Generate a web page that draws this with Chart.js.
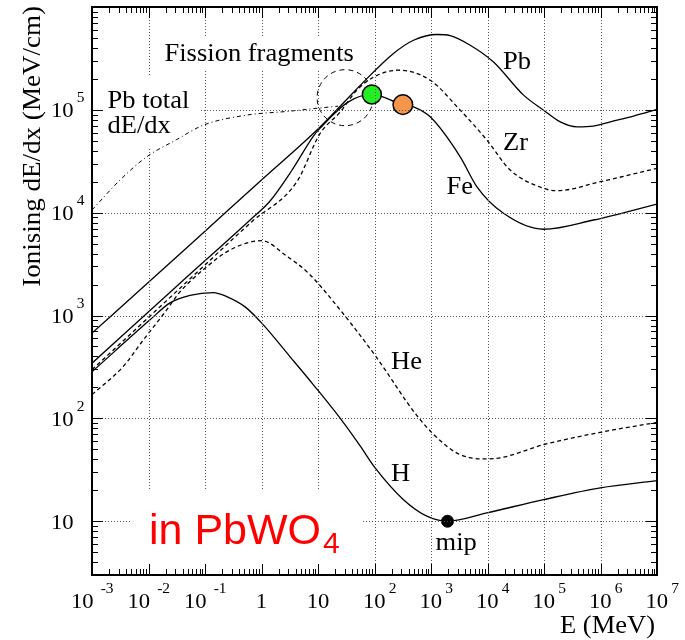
<!DOCTYPE html>
<html><head><meta charset="utf-8">
<script src="https://cdn.jsdelivr.net/npm/chart.js"></script>
<style>html,body{margin:0;padding:0;background:#fff;overflow:hidden}</style>
</head><body>
<canvas id="c" width="685" height="640" style="display:block;width:685px;height:640px"></canvas>
<script>
// ---------- data (energy in MeV, ionising dE/dx in MeV/cm) ----------
const pbE = [0.001, 0.01, 0.1, 1, 10, 30, 60, 216.7, 489.8, 1271, 2188, 4943, 12790, 43450, 98200, 194000, 383000, 754000, 1.49e6, 3.85e6, 1e7];
const pbV = [675, 2105, 6610, 20770, 65100, 121300, 180000, 353000, 475000, 540000, 527000, 425000, 292000, 139000, 99300, 76400, 68400, 69500, 76400, 86900, 100900];

const zrE = [0.001, 0.0361, 0.673, 4.22, 10.9, 24.6, 48.7, 95.8, 265.5, 967, 3289, 9770, 25240, 98200, 169400, 991000, 1e7];
const zrV = [297, 1845, 8180, 20000, 59000, 95000, 155300, 207700, 242900, 194200, 99300, 50800, 26000, 17260, 16360, 20000, 27000];

const feE = [0.001, 0.0361, 0.628, 1.419, 3.48, 8.30, 10.9, 34.6, 89.8, 317.7, 489.8, 967, 3289, 6500, 19230, 98200, 754000, 1e7];
const feV = [344, 2064, 8492, 13000, 26000, 55560, 66400, 119600, 141200, 112300, 107000, 85500, 34960, 17870, 9860, 6900, 8490, 12140];

const heE = [0.001, 0.00354, 0.00767, 0.0204, 0.0361, 0.100, 0.278, 1.01, 2.62, 6.77, 24.6, 95.8, 643, 1910, 3289, 8500, 16790, 98200, 991000, 1e7];
const heV = [170, 318, 556, 1111, 1699, 2885, 4345, 5350, 3883, 2581, 1136, 431, 97.1, 53.5, 44.4, 40.3, 41.3, 55.5, 73.1, 91.4];

const hE = [0.001, 0.01064, 0.0240, 0.0543, 0.1406, 0.2426, 0.512, 1.01, 3.21, 8.30, 24.6, 55.7, 102.6, 326, 845, 1959, 9770, 98200, 991000, 1e7];
const hV = [284, 908, 1328, 1571, 1672, 1529, 1214, 844, 397, 212, 100.5, 54, 33.0, 16.2, 11.2, 10, 12.07, 16.2, 21.1, 24.8];

const pbTotE = [0.001, 0.00313, 0.00931, 0.0316, 0.0935, 0.550, 3.21, 8.30, 22.7];
const pbTotV = [10620, 20770, 34960, 51400, 71000, 88900, 97100, 102800, 108600];

const fissionE = [30.2], fissionV = [131300];
const greenE = [89.8],  greenV = [141200];
const orangeE = [317.7], orangeV = [112300];
const mipE = [1959], mipV = [10];

// tick labels: exponents of 10, and decade grid values
const xTickExps = [-3, -2, -1, 0, 1, 2, 3, 4, 5, 6, 7];
const yTickExps = [1, 2, 3, 4, 5];
const xGridVals = [1e-2, 1e-1, 1, 10, 1e2, 1e3, 1e4, 1e5, 1e6];
const yGridVals = [10, 1e2, 1e3, 1e4, 1e5];

// ---------- styles / annotations ----------
const SERIF = '"Liberation Serif","Times New Roman",serif';
const SANS = '"Liberation Sans",Arial,sans-serif';
const textLabels = [
  {t:'Fission fragments', x:164.5, y:60.5},
  {t:'Pb total', x:107.5, y:108},
  {t:'dE/dx', x:107.5, y:133},
  {t:'Pb', x:503, y:68.5},
  {t:'Zr', x:503, y:150},
  {t:'Fe', x:446.5, y:194},
  {t:'He', x:391, y:369},
  {t:'H', x:391, y:480.5},
  {t:'mip', x:435.5, y:550}
];
// regions where the dotted grid is hidden behind label boxes
const gridGaps = [
  {x:95, y:76, w:105, h:70},
  {x:160, y:37, w:202, h:32},
  {x:130, y:490, w:230, h:84}
];
const inGap = (x, y) => gridGaps.some(b => x >= b.x && x <= b.x + b.w && y >= b.y && y <= b.y + b.h);

const pts = (E, V) => E.map((e, i) => ({x: e, y: V[i]}));
const lineDs = (E, V, dash, w) => ({
  data: pts(E, V), showLine: true, pointRadius: 0, borderColor: '#000',
  borderWidth: w || 1.3, borderDash: dash, fill: false, cubicInterpolationMode: 'monotone'
});

function sText(ctx, str, x, y, size, sx, align) {
  ctx.save();
  ctx.font = size + 'px ' + SERIF;
  ctx.fillStyle = '#000';
  ctx.textBaseline = 'alphabetic';
  ctx.textAlign = align || 'left';
  ctx.translate(x, y);
  ctx.scale(sx, 1);
  ctx.fillText(str, 0, 0);
  ctx.restore();
}

const deco = {
  id: 'deco',
  beforeDatasetDraw(c, args) {
    const ds = c.data.datasets[args.index];
    if (ds.ringDash) { c.ctx.save(); c.ctx.setLineDash(ds.ringDash); }
  },
  afterDatasetDraw(c, args) {
    const ds = c.data.datasets[args.index];
    if (ds.ringDash) { c.ctx.restore(); }
  },
  afterDraw(c) {
    const ctx = c.ctx, ca = c.chartArea, xs = c.scales.x, ys = c.scales.y;
    // dotted decade grid drawn as 1px dots
    ctx.save();
    ctx.globalCompositeOperation = 'source-over';
    ctx.globalAlpha = 1;
    ctx.fillStyle = '#555';
    xGridVals.forEach(v => {
      const px = Math.round(xs.getPixelForValue(v));
      for (let y = Math.ceil(ca.top) + 1; y < ca.bottom - 1; y += 3) {
        if (!inGap(px, y)) ctx.fillRect(px, y, 1, 1);
      }
    });
    yGridVals.forEach(v => {
      const py = Math.round(ys.getPixelForValue(v));
      for (let x = Math.ceil(ca.left) + 1; x < ca.right - 1; x += 3) {
        if (!inGap(x, py)) ctx.fillRect(x, py, 1, 1);
      }
    });
    ctx.restore();

    ctx.save();
    ctx.strokeStyle = '#000'; ctx.lineWidth = 1; ctx.setLineDash([]);
    ctx.beginPath();
    for (let d = -3; d <= 6; d++) {
      for (let k = 1; k <= 9; k++) {
        const v = k * Math.pow(10, d);
        if (v < xs.min * 0.999 || v > xs.max * 1.001) continue;
        const px = Math.round(xs.getPixelForValue(v)) + 0.5;
        const len = k === 1 ? 11 : 6;
        ctx.moveTo(px, ca.bottom); ctx.lineTo(px, ca.bottom - len);
        ctx.moveTo(px, ca.top); ctx.lineTo(px, ca.top + len);
      }
    }
    for (let d = 0; d <= 6; d++) {
      for (let k = 1; k <= 9; k++) {
        const v = k * Math.pow(10, d);
        if (v < ys.min * 0.999 || v > ys.max * 1.001) continue;
        const py = Math.round(ys.getPixelForValue(v)) + 0.5;
        const len = k === 1 ? 11 : 6;
        ctx.moveTo(ca.left, py); ctx.lineTo(ca.left + len, py);
        ctx.moveTo(ca.right, py); ctx.lineTo(ca.right - len, py);
      }
    }
    ctx.stroke();
    ctx.lineWidth = 2;
    ctx.strokeRect(ca.left, ca.top, ca.right - ca.left, ca.bottom - ca.top);
    ctx.restore();

    ctx.save();
    xTickExps.forEach(n => {
      const px = xs.getPixelForValue(Math.pow(10, n));
      if (n === 0) { sText(ctx, '1', px, 608, 22, 1.03, 'center'); return; }
      if (n === 1) { sText(ctx, '10', px, 608, 22, 1.03, 'center'); return; }
      const x0 = px + (n < 0 ? -21 : -11.5);
      sText(ctx, '10', x0, 608, 22, 1.03, 'left');
      ctx.font = '22px ' + SERIF;
      const w = ctx.measureText('10').width * 1.03;
      sText(ctx, String(n), x0 + w + (n < 0 ? 7 : 3), 593, 15, 1.03, 'left');
    });
    yTickExps.forEach(n => {
      const py = ys.getPixelForValue(Math.pow(10, n));
      sText(ctx, '10', 51, py + 7.5, 22, 1.03, 'left');
      if (n !== 1) {
        ctx.font = '22px ' + SERIF;
        const w = ctx.measureText('10').width * 1.03;
        sText(ctx, String(n), 51 + w + 3, py - 7.5, 15, 1.03, 'left');
      }
    });
    sText(ctx, 'E (MeV)', 655, 633, 26, 1.02, 'right');
    ctx.save();
    ctx.translate(39.5, 6);
    ctx.rotate(-Math.PI / 2);
    sText(ctx, 'Ionising dE/dx (MeV/cm)', 0, 0, 26, 1.04, 'right');
    ctx.restore();
    textLabels.forEach(l => sText(ctx, l.t, l.x, l.y, 26, 1.02, 'left'));
    ctx.fillStyle = '#ff0000';
    ctx.textBaseline = 'alphabetic'; ctx.textAlign = 'left';
    ctx.font = '43px ' + SANS;
    ctx.fillText('in PbWO', 149, 544);
    const wr = ctx.measureText('in PbWO').width;
    ctx.font = '30px ' + SANS;
    ctx.fillText('4', 149 + wr + 2, 553);
    ctx.restore();
  }
};

new Chart(document.getElementById('c'), {
  type: 'scatter',
  data: {
    datasets: [
      {data: pts(mipE, mipV), pointRadius: 6, pointBackgroundColor: '#000', pointBorderColor: '#000', pointBorderWidth: 1},
      {data: pts(greenE, greenV), pointRadius: 9.5, pointBackgroundColor: '#22ee22', pointBorderColor: '#000', pointBorderWidth: 1.5},
      {data: pts(orangeE, orangeV), pointRadius: 9.8, pointBackgroundColor: '#f5964b', pointBorderColor: '#000', pointBorderWidth: 1.5},
      {data: pts(fissionE, fissionV), pointRadius: 28, pointBackgroundColor: 'rgba(0,0,0,0)', pointBorderColor: '#000', pointBorderWidth: 1, ringDash: [5, 4]},
      lineDs(pbE, pbV, []),
      lineDs(feE, feV, []),
      lineDs(hE, hV, []),
      lineDs(zrE, zrV, [4, 3]),
      lineDs(heE, heV, [4, 3]),
      lineDs(pbTotE, pbTotV, [4, 3, 1, 3], 1)
    ]
  },
  options: {
    responsive: false, animation: false, devicePixelRatio: 1, events: [],
    layout: {autoPadding: false, padding: {left: 92, right: 28, top: 7, bottom: 65}},
    plugins: {legend: {display: false}, tooltip: {enabled: false}},
    scales: {
      x: {
        type: 'logarithmic', min: 1e-3, max: 1e7, bounds: 'data',
        afterBuildTicks: s => { s.ticks = xGridVals.map(v => ({value: v})); },
        ticks: {display: false},
        grid: {display: false, drawTicks: false},
        border: {display: false}
      },
      y: {
        type: 'logarithmic', min: 3, max: 1e6, bounds: 'data',
        afterBuildTicks: s => { s.ticks = yGridVals.map(v => ({value: v})); },
        ticks: {display: false},
        grid: {display: false, drawTicks: false},
        border: {display: false}
      }
    }
  },
  plugins: [deco]
});
</script>
</body></html>
